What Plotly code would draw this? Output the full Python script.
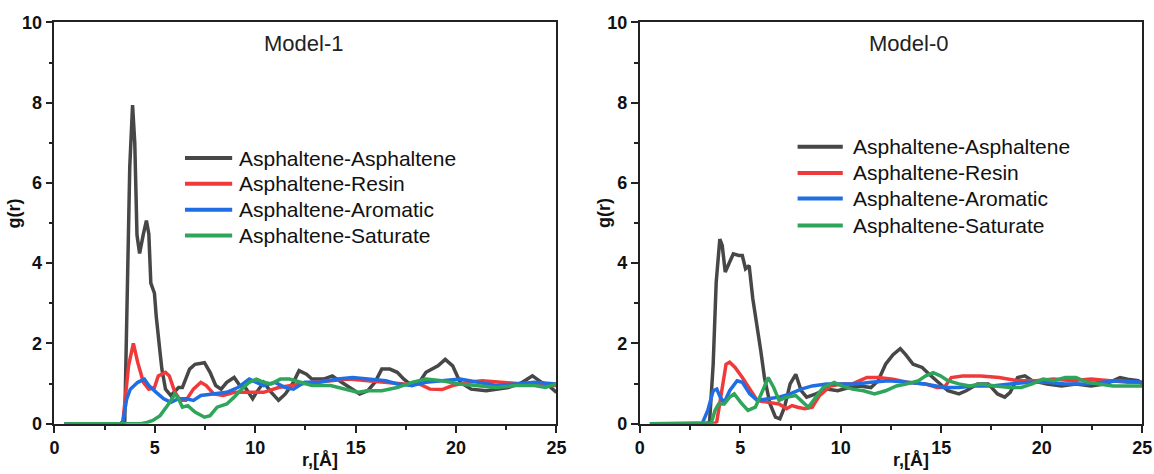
import plotly.graph_objects as go

# ---------------- Model-1 : radial distribution functions ----------------
m1_aa_r = [0.5, 3.3, 3.5, 3.63, 3.75, 3.89, 4.0, 4.11, 4.24, 4.43, 4.58, 4.7, 4.8, 4.98, 5.07,
           5.26, 5.35, 5.53, 5.8, 6.18, 6.37, 6.73, 7.0, 7.47, 7.75, 8.03, 8.3, 8.58, 8.95,
           9.23, 9.5, 9.87, 10.06, 10.42, 10.8, 11.16, 11.5, 11.9, 12.18, 12.55, 12.82, 13.4,
           13.84, 14.3, 14.85, 15.2, 15.6, 15.96, 16.3, 16.7, 17.07, 17.4, 17.8, 18.17, 18.5,
           19.1, 19.46, 19.83, 20.2, 20.75, 21.5, 22.6, 23.3, 23.8, 24.26, 24.6, 25.0]
m1_aa_g = [0.0, 0.0, 0.04, 3.1, 6.4, 7.94, 7.0, 4.7, 4.24, 4.73, 5.06, 4.73, 3.5, 3.25, 2.67,
           1.77, 1.36, 0.86, 0.70, 0.9, 0.9, 1.36, 1.48, 1.52, 1.28, 0.95, 0.86, 1.03, 1.15,
           0.95, 0.9, 0.62, 0.78, 1.03, 0.78, 0.58, 0.74, 1.03, 1.32, 1.23, 1.11, 1.11,
           1.19, 1.03, 0.86, 0.74, 0.82, 1.03, 1.36, 1.36, 1.28, 1.11, 0.95, 1.03, 1.28,
           1.44, 1.6, 1.44, 1.03, 0.86, 0.82, 0.9, 1.03, 1.19, 1.03, 0.95, 0.78]

m1_ar_r = [0.5, 3.3, 3.41, 3.69, 3.93, 4.15, 4.43, 4.7, 4.98, 5.17, 5.53, 5.72, 6.0, 6.27, 6.55,
           6.92, 7.29, 7.56, 7.93, 8.4, 8.95, 9.7, 10.42, 11.16, 11.9, 12.82, 13.75, 14.67,
           15.6, 16.5, 17.4, 18.17, 18.7, 19.3, 19.83, 20.6, 21.3, 22.23, 23.3, 24.26, 25.0]
m1_ar_g = [0.0, 0.0, 0.05, 1.44, 2.0, 1.52, 1.03, 0.86, 0.9, 1.19, 1.28, 1.19, 0.78, 0.58, 0.58,
           0.86, 1.03, 0.95, 0.74, 0.7, 0.78, 0.78, 0.78, 0.9, 0.95, 1.03, 1.07, 1.11,
           1.07, 1.03, 0.99, 0.99, 0.86, 0.85, 0.95, 1.03, 1.07, 1.03, 0.99, 0.95, 0.95]

m1_am_r = [0.5, 3.3, 3.41, 3.6, 3.78, 4.15, 4.48, 4.7, 5.07, 5.44, 5.8, 6.18, 6.55, 6.92, 7.29,
           7.84, 8.58, 9.13, 9.7, 10.06, 10.42, 10.98, 11.5, 11.9, 12.45, 13.2, 14.1, 14.85,
           15.6, 16.5, 17.07, 17.8, 18.5, 19.3, 20.2, 21.1, 22.0, 22.97, 23.9, 25.0]
m1_am_g = [0.0, 0.0, 0.05, 0.62, 0.86, 1.03, 1.11, 0.95, 0.78, 0.62, 0.53, 0.62, 0.62, 0.58, 0.7,
           0.74, 0.78, 0.9, 1.11, 1.03, 0.95, 1.03, 0.9, 0.86, 1.03, 1.03, 1.11, 1.15,
           1.11, 1.07, 0.99, 0.95, 1.03, 1.07, 1.11, 1.03, 0.95, 0.99, 1.03, 0.99]

m1_as_r = [0.5, 4.3, 4.6, 4.9, 5.26, 5.63, 6.0, 6.18, 6.37, 6.64, 7.0, 7.47, 7.75, 8.1, 8.58,
           8.95, 9.32, 9.7, 10.06, 10.42, 10.8, 11.25, 11.7, 12.27, 12.82, 13.75, 14.5, 15.13,
           15.6, 16.3, 17.07, 17.8, 18.5, 19.3, 20.2, 21.1, 22.0, 23.0, 23.9, 24.45, 25.0]
m1_as_g = [0.0, 0.0, 0.03, 0.08, 0.2, 0.45, 0.74, 0.62, 0.41, 0.45, 0.29, 0.16, 0.2, 0.41, 0.49,
           0.66, 0.86, 1.03, 1.11, 1.03, 0.99, 1.11, 1.11, 1.03, 0.95, 0.95, 0.86, 0.78,
           0.82, 0.82, 0.9, 1.03, 1.11, 1.07, 0.99, 0.95, 0.9, 0.95, 0.95, 0.9, 0.99]

# ---------------- Model-0 : radial distribution functions ----------------
m0_aa_r = [0.5, 3.35, 3.47, 3.65, 3.8, 3.98, 4.1, 4.25, 4.47, 4.65, 4.93, 5.1, 5.26, 5.44, 5.62,
           5.84, 6.02, 6.2, 6.48, 6.75, 6.97, 7.2, 7.48, 7.76, 8.03, 8.3, 8.76, 9.3, 9.85,
           10.4, 10.95, 11.5, 11.86, 12.23, 12.6, 12.96, 13.23, 13.6, 14.05, 14.4, 14.78,
           15.33, 15.88, 16.24, 16.8, 17.34, 17.8, 18.16, 18.43, 18.8, 19.16, 19.53, 20.26,
           20.99, 21.7, 22.45, 23.2, 23.9, 24.27, 24.8, 25.0]
m0_aa_g = [0.0, 0.0, 0.05, 1.48, 3.53, 4.6, 4.44, 3.78, 4.03, 4.23, 4.19, 4.19, 3.86, 3.94, 3.12,
           2.46, 1.81, 1.15, 0.49, 0.16, 0.12, 0.41, 0.99, 1.23, 0.82, 0.66, 0.74, 0.86, 0.82,
           0.9, 0.94, 0.9, 1.07, 1.48, 1.72, 1.87, 1.72, 1.48, 1.4, 1.23, 1.07,
           0.82, 0.74, 0.82, 0.99, 0.99, 0.74, 0.66, 0.78, 1.15, 1.19, 1.07, 0.99,
           0.94, 0.99, 0.94, 0.99, 1.15, 1.11, 1.07, 0.99]

m0_ar_r = [0.5, 3.7, 3.83, 4.1, 4.29, 4.47, 4.74, 5.1, 5.47, 5.84, 6.39, 6.93, 7.3, 7.57, 7.85,
           8.2, 8.58, 8.94, 9.49, 10.04, 10.58, 11.3, 11.86, 12.6, 13.3, 14.2, 14.78, 15.15,
           15.5, 16.06, 16.97, 17.88, 18.8, 19.7, 20.6, 21.5, 22.45, 23.36, 24.27, 25.0]
m0_ar_g = [0.0, 0.0, 0.05, 0.82, 1.48, 1.53, 1.4, 1.15, 0.86, 0.58, 0.53, 0.49, 0.37, 0.45, 0.41,
           0.37, 0.41, 0.7, 0.94, 0.99, 0.99, 1.15, 1.15, 1.11, 1.03, 0.99, 0.9, 0.9,
           1.15, 1.19, 1.19, 1.15, 1.07, 1.07, 1.11, 1.07, 1.11, 1.07, 1.03, 1.03]

m0_am_r = [0.5, 3.1, 3.38, 3.65, 3.83, 4.0, 4.2, 4.47, 4.84, 5.1, 5.47, 5.84, 6.39, 6.93, 7.48,
           8.03, 8.58, 9.3, 10.04, 10.77, 11.5, 12.4, 13.3, 14.2, 15.15, 15.88, 16.6, 17.5,
           18.43, 19.34, 20.26, 21.17, 22.08, 22.99, 23.9, 25.0]
m0_am_g = [0.0, 0.0, 0.33, 0.82, 0.86, 0.66, 0.53, 0.82, 1.07, 1.03, 0.74, 0.58, 0.62, 0.66, 0.74,
           0.86, 0.94, 0.99, 0.99, 0.99, 1.03, 1.07, 1.03, 0.99, 0.9, 0.9, 0.94, 0.94,
           0.99, 1.03, 1.03, 0.99, 0.99, 1.03, 1.07, 1.03]

m0_as_r = [0.5, 3.4, 3.56, 3.74, 3.92, 4.2, 4.47, 4.7, 5.02, 5.38, 5.75, 6.11, 6.39, 6.66, 6.93,
           7.3, 7.76, 8.12, 8.39, 8.76, 9.12, 9.67, 10.04, 10.58, 11.13, 11.68, 12.23, 12.77,
           13.3, 13.87, 14.23, 14.6, 14.96, 15.33, 15.88, 16.42, 16.97, 17.7, 18.43, 18.98,
           19.53, 20.07, 20.6, 21.17, 21.7, 22.26, 22.8, 23.54, 24.27, 25.0]
m0_as_g = [0.0, 0.0, 0.02, 0.33, 0.49, 0.49, 0.66, 0.74, 0.53, 0.33, 0.41, 0.82, 1.15, 0.9, 0.58,
           0.66, 0.7, 0.53, 0.41, 0.66, 0.9, 1.03, 0.94, 0.86, 0.82, 0.74, 0.82, 0.94,
           0.99, 1.07, 1.19, 1.27, 1.19, 1.07, 0.99, 0.94, 0.99, 0.94, 0.9, 0.9,
           0.99, 1.11, 1.07, 1.15, 1.15, 1.03, 0.99, 0.94, 0.94, 0.94]

pair_names = ["Asphaltene-Asphaltene", "Asphaltene-Resin",
              "Asphaltene-Aromatic", "Asphaltene-Saturate"]
pair_colors = ["#474747", "#f03a3a", "#1f6ee3", "#2fa55c"]
panel_titles = ["Model-1", "Model-0"]

panels = [
    [(m1_aa_r, m1_aa_g), (m1_ar_r, m1_ar_g), (m1_am_r, m1_am_g), (m1_as_r, m1_as_g)],
    [(m0_aa_r, m0_aa_g), (m0_ar_r, m0_ar_g), (m0_am_r, m0_am_g), (m0_as_r, m0_as_g)],
]

# Figure canvas and the page frame it sits in (body margin of 8 px on every side).
W, H = 1154, 474
BODY = 8
FRAME_W, FRAME_H = W + 2 * BODY, H + 2 * BODY


def px_x(x):
    """Horizontal position on the framed page -> paper fraction."""
    return (x * FRAME_W / W - BODY) / W


def px_y(y):
    """Vertical position on the framed page -> paper fraction."""
    return 1 - (y * FRAME_H / H - BODY) / H


fig = go.Figure()
for p, series in enumerate(panels):
    xa = "x" if p == 0 else "x2"
    ya = "y" if p == 0 else "y2"
    for (r, g), name, color in zip(series, pair_names, pair_colors):
        fig.add_trace(go.Scatter(x=r, y=g, mode="lines", name=name, showlegend=False,
                                 line=dict(color=color, width=3.5), xaxis=xa, yaxis=ya))

axis_line = "#222222"
tick_font = dict(family="Liberation Sans, Arial", size=18, color="#111111", weight="bold")


def x_axis(domain, anchor):
    return dict(domain=domain, anchor=anchor, range=[0, 25], tickvals=[0, 5, 10, 15, 20, 25],
                ticks="outside", ticklen=7, tickwidth=1.5, tickcolor=axis_line,
                minor=dict(dtick=2.5, ticks="outside", ticklen=4, tickwidth=1.5, tickcolor=axis_line),
                showline=True, linecolor=axis_line, linewidth=1.8, mirror=True,
                showgrid=False, zeroline=False, tickfont=tick_font)


def y_axis(anchor):
    return dict(domain=[px_y(425.5), px_y(20.3)], anchor=anchor, range=[0, 10],
                tickvals=[0, 2, 4, 6, 8, 10],
                ticks="outside", ticklen=7, tickwidth=1.5, tickcolor=axis_line,
                minor=dict(dtick=1, ticks="outside", ticklen=4, tickwidth=1.5, tickcolor=axis_line),
                showline=True, linecolor=axis_line, linewidth=1.8, mirror=True,
                showgrid=False, zeroline=False, tickfont=tick_font)


annotations = []
shapes = []
title_pos = [0.497, 0.535]
xlabel_pos = [0.528, 0.54]
ylabel_px = [17, 607]
legend_line = [(0.260, 0.354, 0.364), (0.314, 0.404, 0.420)]
legend_rows = [[0.662, 0.598, 0.533, 0.469], [0.690, 0.625, 0.561, 0.494]]

for p in range(2):
    xd = "x domain" if p == 0 else "x2 domain"
    yd = "y domain" if p == 0 else "y2 domain"
    annotations.append(dict(text=panel_titles[p], xref=xd, yref=yd, x=title_pos[p], y=0.948,
                            showarrow=False, xanchor="center", yanchor="middle",
                            font=dict(family="Liberation Sans, Arial", size=22, color="#222222")))
    annotations.append(dict(text="r,[Å]", xref=xd, yref="paper", x=xlabel_pos[p], y=px_y(462),
                            showarrow=False, xanchor="center", yanchor="middle",
                            font=dict(family="Liberation Sans, Arial", size=18, color="#111111",
                                      weight="bold")))
    annotations.append(dict(text="g(r)", xref="paper", yref=yd, x=px_x(ylabel_px[p]), y=0.524,
                            showarrow=False, xanchor="center", yanchor="middle", textangle=-90,
                            font=dict(family="Liberation Sans, Arial", size=18, color="#111111",
                                      weight="bold")))
    x0, x1, xt = legend_line[p]
    for name, color, yy in zip(pair_names, pair_colors, legend_rows[p]):
        shapes.append(dict(type="line", xref=xd, yref=yd, x0=x0, x1=x1, y0=yy, y1=yy,
                           line=dict(color=color, width=4)))
        annotations.append(dict(text=name, xref=xd, yref=yd, x=xt, y=yy, showarrow=False,
                                xanchor="left", yanchor="middle",
                                font=dict(family="Liberation Sans, Arial", size=21, color="#111111")))

fig.update_layout(
    width=W, height=H,
    margin=dict(l=0, r=0, t=0, b=0),
    paper_bgcolor="white", plot_bgcolor="white",
    xaxis=x_axis([px_x(57.3), px_x(559)], "y"),
    yaxis=y_axis("x"),
    xaxis2=x_axis([px_x(642.3), px_x(1144.3)], "y2"),
    yaxis2=y_axis("x2"),
    annotations=annotations,
    shapes=shapes,
    showlegend=False,
)

fig.write_html("out.html")
